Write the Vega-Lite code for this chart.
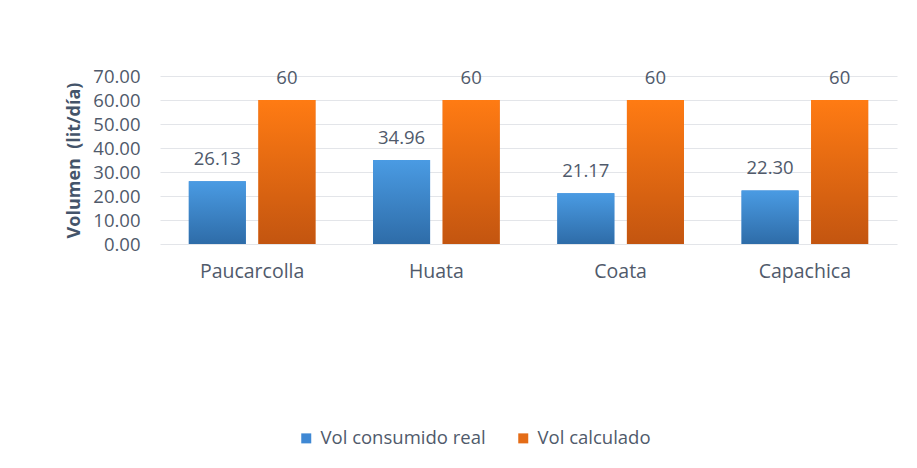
{
  "$schema": "https://vega.github.io/schema/vega-lite/v6.json",
  "width": 737,
  "height": 168,
  "autosize": {"type": "none"},
  "padding": {"left": 160, "top": 76, "right": 20, "bottom": 224},
  "background": "white",
  "config": {"view": {"stroke": null}, "font": "Open Sans"},
  "data": {
    "values": [
      {"sitio": "Paucarcolla", "serie": "Vol consumido real", "valor": 26.13},
      {"sitio": "Paucarcolla", "serie": "Vol calculado", "valor": 60},
      {"sitio": "Huata", "serie": "Vol consumido real", "valor": 34.96},
      {"sitio": "Huata", "serie": "Vol calculado", "valor": 60},
      {"sitio": "Coata", "serie": "Vol consumido real", "valor": 21.17},
      {"sitio": "Coata", "serie": "Vol calculado", "valor": 60},
      {"sitio": "Capachica", "serie": "Vol consumido real", "valor": 22.30},
      {"sitio": "Capachica", "serie": "Vol calculado", "valor": 60}
    ]
  },
  "encoding": {
    "x": {
      "field": "sitio",
      "type": "nominal",
      "sort": ["Paucarcolla", "Huata", "Coata", "Capachica"],
      "scale": {"paddingInner": 0, "paddingOuter": 0},
      "axis": {
        "title": null,
        "labelAngle": 0,
        "domain": false,
        "ticks": false,
        "tickSize": 0,
        "labelFontSize": 19.5,
        "labelColor": "#505A6B",
        "labelPadding": 18
      }
    },
    "xOffset": {
      "field": "serie",
      "type": "nominal",
      "sort": ["Vol consumido real", "Vol calculado"],
      "scale": {"paddingInner": 0.181, "paddingOuter": 0.414}
    },
    "y": {
      "field": "valor",
      "type": "quantitative",
      "scale": {"domain": [0, 70]},
      "axis": {
        "values": [0, 10, 20, 30, 40, 50, 60, 70],
        "format": ".2f",
        "title": "Volumen\u00a0 (lit/día)",
        "titleFontSize": 18,
        "titleFontWeight": "bold",
        "titleColor": "#44546A",
        "titlePadding": 9,
        "domain": false,
        "ticks": false,
        "tickSize": 0,
        "labelPadding": 20,
        "labelFontSize": 18.5,
        "labelColor": "#505A6B",
        "gridColor": "#E3E5E9",
        "gridWidth": 1.2
      }
    }
  },
  "layer": [
    {
      "mark": {"type": "bar"},
      "encoding": {
        "color": {
          "field": "serie",
          "type": "nominal",
          "sort": ["Vol consumido real", "Vol calculado"],
          "scale": {"range": ["#3F88D4", "#E46C17"]},
          "legend": {
            "title": null,
            "orient": "none",
            "legendX": 137,
            "legendY": 353,
            "direction": "horizontal",
            "symbolType": "square",
            "symbolSize": 100,
            "symbolStrokeWidth": 0,
            "labelFontSize": 18.5,
            "labelLimit": 400,
            "labelColor": "#505A6B",
            "columnPadding": 28,
            "labelOffset": 5
          }
        }
      }
    },
    {
      "transform": [{"filter": "datum.serie === 'Vol consumido real'"}],
      "mark": {
        "type": "bar",
        "color": {
          "gradient": "linear",
          "x1": 0, "y1": 0, "x2": 0, "y2": 1,
          "stops": [
            {"offset": 0, "color": "#4A9BE3"},
            {"offset": 1, "color": "#2E6CA8"}
          ]
        }
      }
    },
    {
      "transform": [{"filter": "datum.serie === 'Vol calculado'"}],
      "mark": {
        "type": "bar",
        "color": {
          "gradient": "linear",
          "x1": 0, "y1": 0, "x2": 0, "y2": 1,
          "stops": [
            {"offset": 0, "color": "#FF7B13"},
            {"offset": 1, "color": "#C35510"}
          ]
        }
      }
    },
    {
      "transform": [{"filter": "datum.serie === 'Vol consumido real'"}],
      "mark": {"type": "text", "dy": -16, "baseline": "alphabetic", "fontSize": 18.5, "color": "#505A6B"},
      "encoding": {"text": {"field": "valor", "type": "quantitative", "format": ".2f"}}
    },
    {
      "transform": [{"filter": "datum.serie === 'Vol calculado'"}],
      "mark": {"type": "text", "dy": -16, "baseline": "alphabetic", "fontSize": 18.5, "color": "#505A6B"},
      "encoding": {"text": {"field": "valor", "type": "quantitative", "format": "d"}}
    }
  ]
}
